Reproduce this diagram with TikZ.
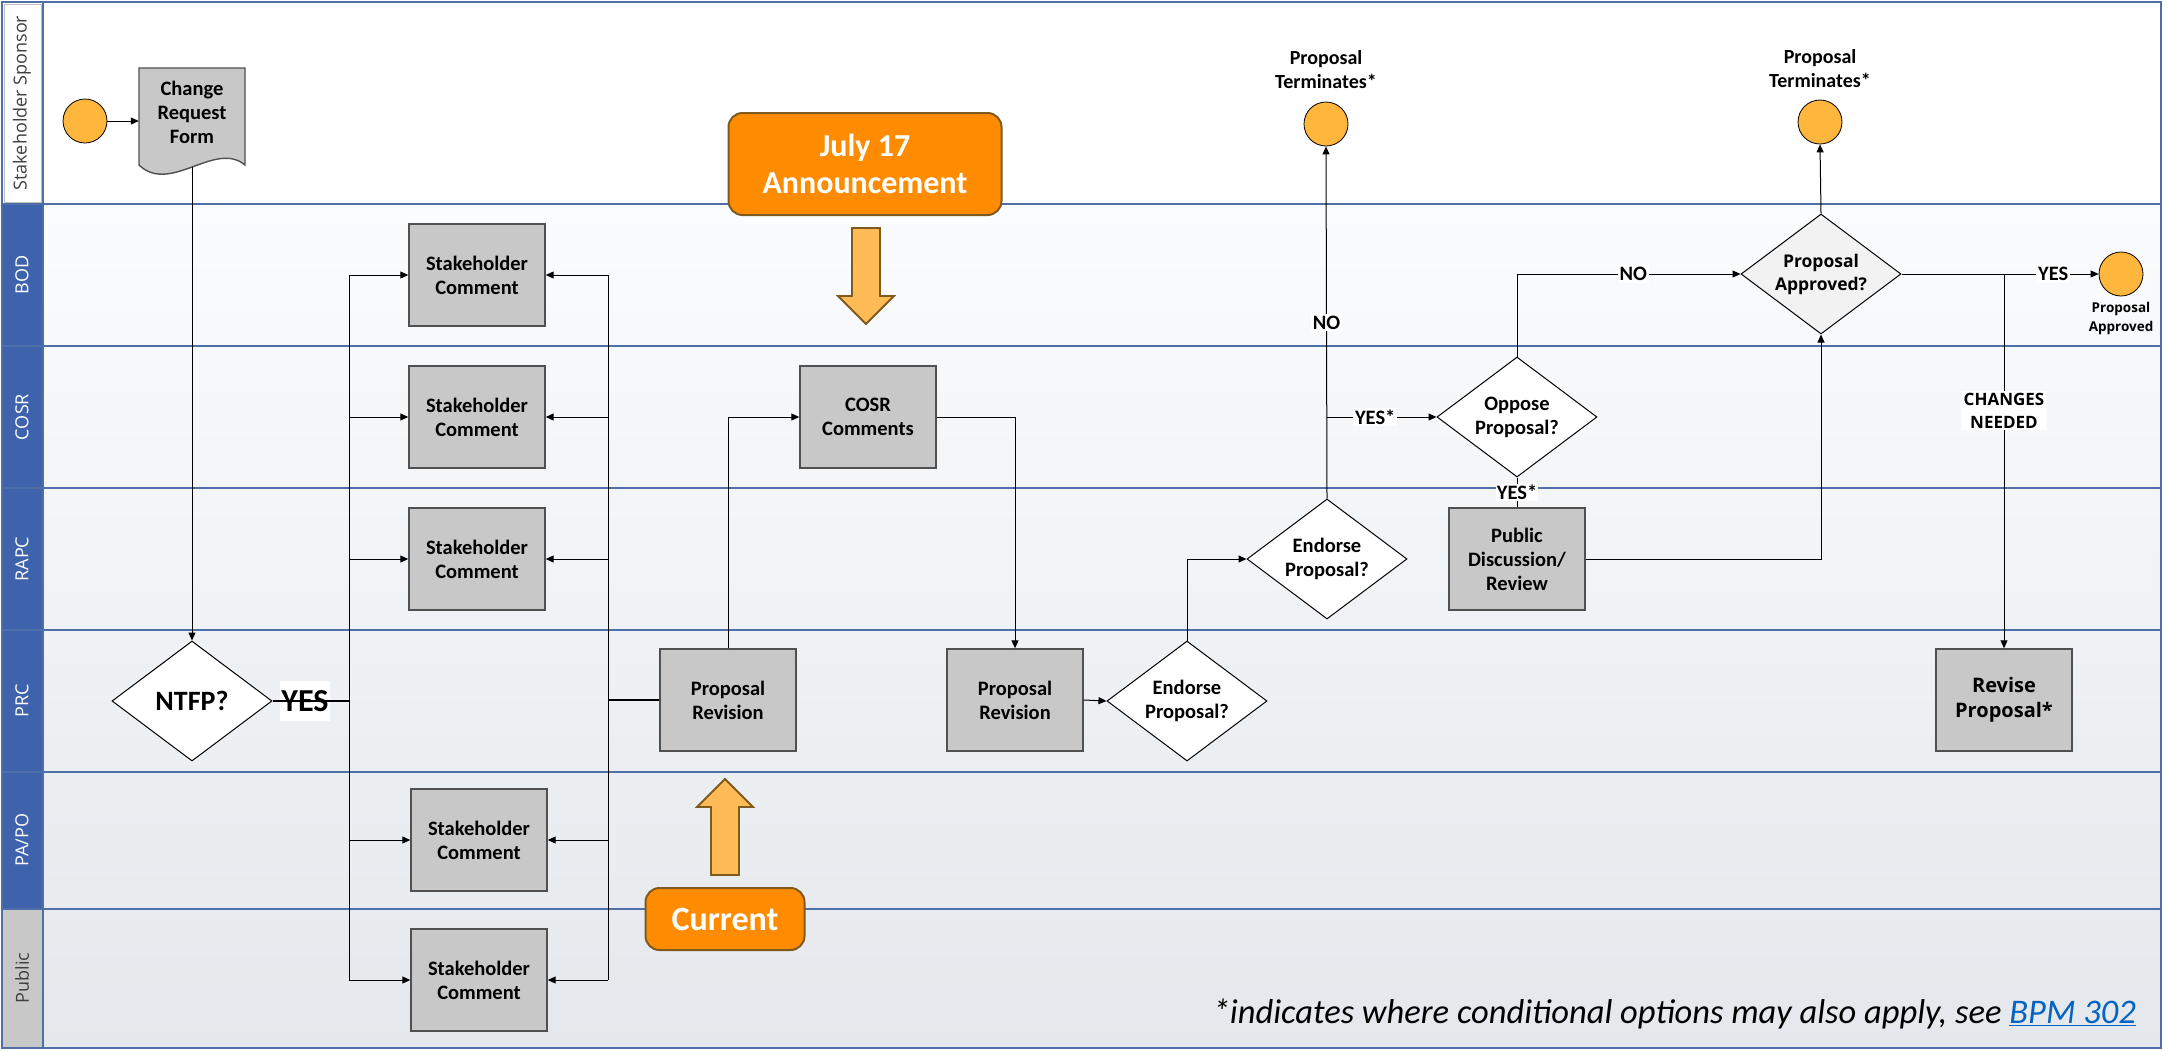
\documentclass[tikz,border=0pt]{standalone}
\usepackage{fontspec}
\setmainfont{Carlito}
\newfontfamily\opensans{Open Sans}
\usetikzlibrary{shapes.geometric,arrows.meta,calc}
\definecolor{laneblue}{RGB}{63,98,172}
\definecolor{lanegrey}{RGB}{200,200,200}
\definecolor{sepline}{RGB}{79,111,168}
\definecolor{boxgrey}{RGB}{200,200,200}
\definecolor{boxedge}{RGB}{80,80,80}
\definecolor{circorange}{RGB}{255,182,60}
\definecolor{calloutorange}{RGB}{255,140,0}
\definecolor{arrowfill}{RGB}{255,187,85}
\definecolor{brownline}{RGB}{127,90,30}
\definecolor{linkblue}{RGB}{5,99,193}
\definecolor{lanetop}{RGB}{251,252,253}
\definecolor{lanebot}{RGB}{228,232,236}
\definecolor{pafill}{RGB}{242,242,242}
\begin{document}
\begin{tikzpicture}[x=1pt,y=-1pt,
  task/.style={draw=boxedge, line width=1.4pt, fill=boxgrey, minimum width=136pt, minimum height=102pt, inner sep=0pt, align=center, font=\fontsize{20.5}{24}\selectfont\bfseries},
  decision/.style={diamond, draw=black, line width=1pt, fill=white, minimum width=160pt, minimum height=120pt, aspect=1.33, inner sep=0pt, align=center, font=\fontsize{20.5}{24}\selectfont\bfseries},
  event/.style={circle, draw=black, line width=0.8pt, fill=circorange, minimum size=44pt, inner sep=0pt},
  flow/.style={line width=1pt, -{Triangle[length=8pt,width=7pt]}},
  conn/.style={line width=1pt},
  buslink/.style={line width=2.5pt},
  lbl/.style={fill=white, inner sep=2pt, font=\fontsize{20.5}{23}\selectfont\bfseries, align=center},
  lanetext/.style={rotate=90, font=\opensans\fontsize{18}{20}\selectfont},
  callout/.style={draw=brownline, line width=2pt, fill=calloutorange, rounded corners=14pt, text=white, align=center, inner sep=0pt, font=\fontsize{32}{37}\selectfont\bfseries},
  blockarrow/.style={draw=brownline, line width=1.8pt, fill=arrowfill, line join=miter},
  sep/.style={draw=sepline, line width=1.6pt}
]
\useasboundingbox (0,0) rectangle (2163,1050);
\fill[white] (0,0) rectangle (2163,1050);
% lane backgrounds
\shade[top color=lanetop, bottom color=lanebot] (43,204) rectangle (2161,1048);
% headers
\fill[laneblue] (2,204) rectangle (43,909);
\fill[lanegrey] (2,909) rectangle (43,1048);
% separators
\foreach \yy in {204,346,488,630,772,909} { \draw[sep] (2,\yy) -- (2161,\yy); }
\draw[sep] (2,2) rectangle (2161,1048);
\draw[sep] (43,2) -- (43,1048);
\draw[draw=black!25, line width=0.8pt] (4,4) rectangle (41,202);
% lane labels
\node[lanetext, text=black!75] (lSS) at (22,103) {Stakeholder Sponsor};
\node[lanetext, text=white] (lBOD) at (22,275) {BOD};
\node[lanetext, text=white] (lCOSR) at (22,417) {COSR};
\node[lanetext, text=white] (lRAPC) at (22,559) {RAPC};
\node[lanetext, text=white] (lPRC) at (22,701) {PRC};
\node[lanetext, text=white] (lPAPO) at (22,840) {PA/PO};
\node[lanetext, text=black!75] (lPub) at (22,978) {Public};

% start + change request form
\node[event] (start) at (85,121) {};
\draw[draw=boxedge, line width=1.4pt, fill=boxgrey] (139,68) -- (245,68) -- (245,165) .. controls (215,140) and (170,195) .. (139,165) -- cycle;
\node[inner sep=0pt, minimum width=106pt, minimum height=106pt] (crf) at (192,121) {};
\node[align=center, font=\fontsize{20.5}{24}\selectfont\bfseries] (crftxt) at (192,112) {Change\\Request\\Form};
\coordinate (crfb) at (192,167);

% decisions
\node[decision, font=\fontsize{28}{32}\selectfont\bfseries] (ntfp) at (192,701) {NTFP?};
\node[decision] (end1) at (1187,701) {Endorse\\Proposal?};
\node[decision] (end2) at (1327,559) {Endorse\\Proposal?};
\node[decision] (opp) at (1517,417) {Oppose\\Proposal?};
\node[decision, fill=pafill, font=\opensans\fontsize{17.5}{23}\selectfont\bfseries] (pa) at (1821,274) {Proposal\\Approved?};

% tasks
\node[task] (sc1) at (477,275) {Stakeholder\\Comment};
\node[task] (sc2) at (477,417) {Stakeholder\\Comment};
\node[task] (sc3) at (477,559) {Stakeholder\\Comment};
\node[task] (sc4) at (479,840) {Stakeholder\\Comment};
\node[task] (sc5) at (479,980) {Stakeholder\\Comment};
\node[task] (pr1) at (728,700) {Proposal\\Revision};
\node[task] (cosr) at (868,417) {COSR\\Comments};
\node[task] (pr2) at (1015,700) {Proposal\\Revision};
\node[task] (pdr) at (1517,559) {Public\\Discussion/\\Review};
\node[task, font=\opensans\fontsize{20}{25}\selectfont\bfseries] (rev) at (2004,700) {Revise\\Proposal*};

% end events
\node[event] (term1) at (1326,124) {};
\node[event] (term2) at (1820,122) {};
\node[event] (term3) at (2121,274) {};
\node[align=center, font=\fontsize{20}{24}\selectfont\bfseries] (t1lbl) at (1326,70) {Proposal\\Terminates*};
\node[align=center, font=\fontsize{20}{24}\selectfont\bfseries] (t2lbl) at (1820,69) {Proposal\\Terminates*};
\node[align=center, font=\opensans\fontsize{13.5}{19}\selectfont\bfseries] (t3lbl) at (2121,318) {Proposal\\Approved};

% callouts
\node[callout, minimum width=273pt, minimum height=102pt] (jul) at (865,164) {July 17\\Announcement};
\node[callout, minimum width=159pt, minimum height=62pt, font=\fontsize{34}{38}\selectfont\bfseries] (cur) at (725,919) {Current};
\draw[blockarrow] (852,228) -- (880,228) -- (880,296) -- (894,296) -- (866,324) -- (838,296) -- (852,296) -- cycle;
\draw[blockarrow] (711,875) -- (739,875) -- (739,807) -- (753,807) -- (725,779) -- (697,807) -- (711,807) -- cycle;

% connectors
\draw[flow] (start) -- (crf.west);
\draw[flow] (crfb) -- (ntfp.north);
\coordinate (busLt) at (349,275);
\coordinate (busLb) at (349,980);
\coordinate (busRt) at (608,275);
\coordinate (busRb) at (608,980);
\node[fill=white, inner sep=0pt, minimum width=50pt, minimum height=40pt, font=\fontsize{32}{36}\selectfont\bfseries] (yesn) at (305,701) {YES};
\draw[buslink] (ntfp.east) -- (ntfp.east -| busLt);
\draw[conn] (busLt) -- (busLb);
\draw[conn] (busRt) -- (busRb);
\foreach \s in {sc1,sc2,sc3,sc4,sc5} {
  \draw[flow] (\s.west -| busLt) -- (\s.west);
  \draw[flow] (\s.east -| busRt) -- (\s.east);
}
\draw[buslink] (pr1.west) -- (pr1.west -| busRt);
\draw[flow] (pr1.north) |- (cosr.west);
\draw[flow] (cosr.east) -| (pr2.north);
\draw[flow] (pr2.east) -- (end1.west);
\draw[flow] (end1.north) |- (end2.west);
\draw[flow] (end2.north) -- (term1.south) node[lbl, pos=0.5] {NO};
\draw[flow] (end2.north |- opp.west) -- (opp.west) node[lbl, pos=0.44] {YES*};
\draw[conn] (opp.south) -- (pdr.north) node[lbl, midway, inner sep=1pt] {YES*};
\draw[flow] (pdr.east) -| (pa.south);
\draw[flow] (opp.north) |- (pa.west) node[lbl, pos=0.76] {NO};
\draw[flow] (pa.north) -- (term2.south);
\draw[flow] (pa.east) -- (term3.west) node[lbl, pos=0.77] {YES};
\coordinate (brch) at (rev.north |- pa.east);
\draw[flow] (brch) -- (rev.north) node[lbl, pos=0.365, font=\opensans\fontsize{17}{23}\selectfont\bfseries] {CHANGES\\NEEDED};

% footnote
\node[anchor=east, inner sep=0pt, font=\fontsize{34.5}{40}\selectfont\itshape] (foot) at (2136,1014) {*indicates where conditional options may also apply, see \textcolor{linkblue}{\underline{BPM 302}}};
\end{tikzpicture}
\end{document}
